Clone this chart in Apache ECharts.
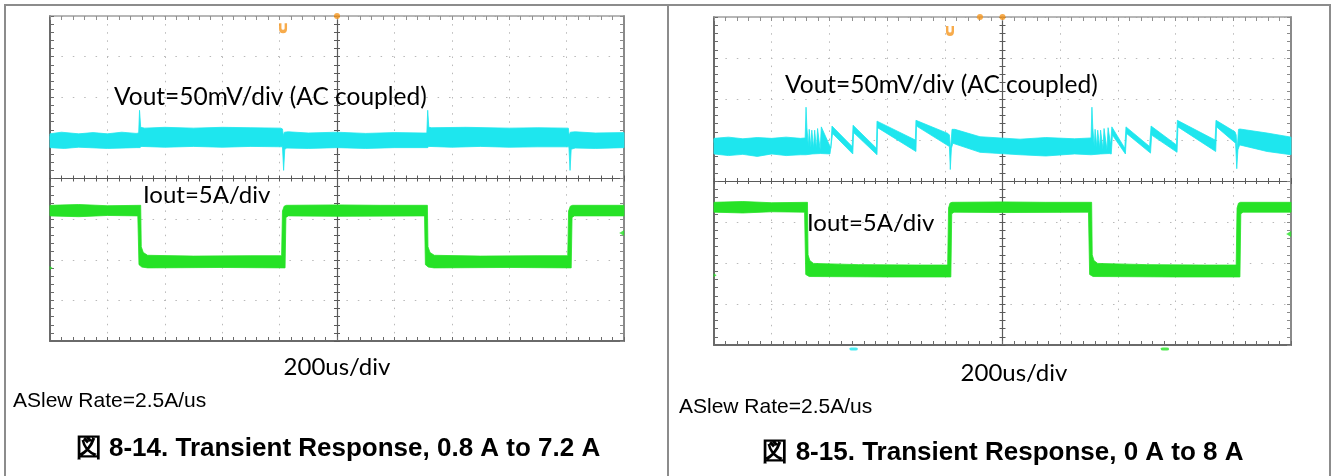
<!DOCTYPE html>
<html><head><meta charset="utf-8">
<script src="https://cdn.jsdelivr.net/npm/echarts@6/dist/echarts.min.js"></script>
<style>html,body{margin:0;padding:0;background:#fff}#c{width:1334px;height:476px}</style>
</head><body><div id="c"></div>
<script>
// Time: microseconds relative to the trigger (200 us/div, 10 divisions)
const timeRange = [-1000, 1000];
const timeStep = 200;
// Screen divisions (8 vertical divisions)
const divRange = [-4, 4];
// Channel scales: Vout 50 mV/div (AC coupled), Iout 5 A/div
const voutRange = [-250, 150];
const ioutRange = [-9, 31];

// ---------- Figure 8-14 : 0.8 A to 7.2 A ----------
const leftVoutUpper = [[-1000,5],[-960,7],[-900,5],[-850,6.5],[-800,5],[-750,7],[-700,5.5],[-691,6],[-688,34],[-684,13],[-670,12],[-600,13],[-500,12],[-400,13],[-300,12.5],[-196,12],[-190,11],[-187,3],[-183,7],[-170,7.5],[-100,6],[0,7],[100,5.5],[200,6.5],[300,6],[313,6],[316,34],[320,13],[330,12.5],[450,13],[600,12],[700,12.5],[806,12],[809,3],[813,7],[830,7.5],[900,6],[1000,6.5]];
const leftVoutLower = [[-1000,-12],[-950,-13],[-900,-11.5],[-800,-13],[-700,-12],[-686,-12],[-683,-10.5],[-600,-11.5],[-500,-10.5],[-400,-11.5],[-300,-10.5],[-190,-11],[-186,-40],[-182,-14],[-175,-12.5],[-100,-13],[0,-12],[100,-13],[200,-12],[316,-12],[320,-10.5],[400,-11.5],[500,-10.5],[600,-11.5],[700,-11],[808,-11],[812,-40],[816,-14],[830,-12.5],[900,-13],[1000,-12]];
const leftIoutUpper = [[-1000,7.7],[-900,7.8],[-800,7.65],[-684,7.7],[-682,2.6],[-675,1.9],[-660,1.55],[-500,1.45],[-300,1.5],[-193,1.5],[-190,7.0],[-184,7.6],[-176,7.7],[0,7.75],[150,7.7],[315,7.7],[317,2.6],[324,1.9],[339,1.55],[500,1.45],[700,1.5],[804,1.5],[807,7.0],[813,7.6],[821,7.7],[1000,7.7]];
const leftIoutLower = [[-1000,6.4],[-900,6.3],[-800,6.45],[-694,6.4],[-690,0.4],[-680,0.1],[-660,0.0],[-400,0.05],[-181,0.0],[-178,6.2],[-170,6.4],[0,6.35],[305,6.4],[308,0.4],[318,0.1],[338,0.0],[600,0.05],[816,0.0],[819,6.2],[827,6.4],[1000,6.4]];

// ---------- Figure 8-15 : 0 A to 8 A ----------
const rightVoutUpper = [[-1000,2],[-950,3.5],[-900,1.5],[-850,3],[-800,2],[-750,3.5],[-700,2],[-684,2.5],[-681,40],[-678,15],[-673,-8],[-670,13],[-664,-9],[-661,12],[-655,-10],[-651,12],[-645,-11],[-641,14],[-632,-12],[-628,16],[-595,-10],[-591,17],[-521,-8],[-518,18],[-437,-10],[-435,23],[-302,0],[-300,24],[-189,8],[-184,6],[-180,-12],[-175,13],[-165,13],[-78,4],[61,1],[150,3],[250,1.5],[307,2.5],[310,40],[313,15],[318,-8],[321,13],[327,-9],[330,12],[337,-10],[340,12],[348,-11],[352,14],[362,-12],[366,15],[375,-6],[379,16],[424,-10],[428,16],[510,-8],[515,17],[603,-6],[606,24],[737,0],[740,24],[806,10],[810,6],[813,-14],[818,13],[823,13.4],[917,8.5],[997,3.7],[1000,3.5]];
const rightVoutLower = [[-1000,-17],[-950,-19],[-900,-17.5],[-850,-20],[-800,-17],[-750,-19],[-700,-18],[-681,-18],[-660,-17],[-630,-16.5],[-598,-17],[-589,8],[-519,-17],[-516,9],[-435,-18],[-433,15],[-300,-14],[-298,17],[-184,-8],[-181,-36],[-177,-10],[-172,-4],[-78,-15],[61,-18],[150,-19.5],[250,-17],[307,-18],[340,-17],[370,-16.5],[377,-17],[381,6],[426,-17],[430,8],[513,-16],[517,6],[605,-15],[608,16],[739,-14],[742,16],[808,-4],[812,-35],[816,-12],[822,-6],[917,-14],[1000,-18]];
const rightIoutUpper = [[-1000,8.4],[-900,8.5],[-800,8.35],[-676,8.4],[-674,2.0],[-668,1.3],[-655,0.95],[-500,0.8],[-300,0.75],[-190,0.75],[-187,7.7],[-182,8.3],[-175,8.4],[0,8.45],[150,8.4],[309,8.4],[311,2.0],[317,1.3],[330,0.95],[500,0.8],[700,0.75],[810,0.75],[813,7.7],[818,8.3],[825,8.4],[1000,8.4]];
const rightIoutLower = [[-1000,7.2],[-900,7.1],[-800,7.25],[-686,7.2],[-682,-0.4],[-670,-0.65],[-400,-0.7],[-179,-0.7],[-176,7.0],[-168,7.2],[0,7.15],[298,7.2],[302,-0.4],[314,-0.65],[600,-0.7],[823,-0.7],[826,7.0],[834,7.2],[1000,7.2]];

// Scope UI markers [time, division]
const leftTrigger = [[0, 4]];
const rightTrigger = [[-78, 4], [0, 4]];
const leftU = [[-188, 3.7]];
const rightU = [[-182, 3.66]];
const leftIoutRef = [[992, -1.34]];
const rightIoutRef = [[992, -1.29]];
const leftGnd = [[-996, 1.0, 'c'], [-996, -2.2, 'g']];
const rightGnd = [[-996, 0.98, 'c'], [-996, -2.3, 'g']];
const rightBottom = [[-516, -4.1, 'c'], [563, -4.1, 'g']];

// Text
const texts = {
  vout: 'Vout=50mV/div (AC coupled)',
  iout: 'Iout=5A/div',
  time: '200us/div',
  slew: 'ASlew Rate=2.5A/us',
  titleL: '図 8-14. Transient Response, 0.8 A to 7.2 A',
  titleR: '図 8-15. Transient Response, 0 A to 8 A'
};

const CYAN = '#1ee6ee';
const GREEN = '#26e226';
const ORANGE = '#f5961e';

const grids = [
  {left: 50, top: 16, width: 574, height: 325},
  {left: 714, top: 17, width: 577, height: 328}
];

const xAxes = [], yAxes = [];
grids.forEach((g, gi) => {
  const W = g.width, H = g.height;
  const base = {gridIndex: gi, type: 'value', min: timeRange[0], max: timeRange[1], interval: timeStep,
    axisLabel: {show: false}, splitLine: {show: false}};
  xAxes.push(Object.assign({}, base, {position: 'bottom',
    axisLine: {show: true, onZero: false, lineStyle: {color: '#6a6a6a', width: 2}},
    axisTick: {show: true, inside: true, length: 4, lineStyle: {color: '#6a6a6a'}},
    minorTick: {show: true, splitNumber: 5, length: 4, lineStyle: {color: '#6a6a6a'}},
    splitLine: {show: true, lineStyle: {color: '#b9b9b9', width: 1, type: [1.5, 6.6]}}}));
  xAxes.push(Object.assign({}, base, {position: 'top',
    axisLine: {show: true, onZero: false, lineStyle: {color: '#a0a0a0', width: 1.5}},
    axisTick: {show: true, inside: true, length: 4, lineStyle: {color: '#909090'}},
    minorTick: {show: true, splitNumber: 5, length: 4, lineStyle: {color: '#909090'}}}));
  xAxes.push(Object.assign({}, base, {position: 'bottom', offset: -H / 2,
    axisLine: {show: true, onZero: false, lineStyle: {color: '#5a5a5a', width: 1.2}},
    axisTick: {show: true, inside: true, length: 3, lineStyle: {color: '#5a5a5a'}},
    minorTick: {show: true, splitNumber: 5, length: 3, lineStyle: {color: '#5a5a5a'}}}));
  xAxes.push(Object.assign({}, base, {position: 'top', offset: -H / 2,
    axisLine: {show: false, onZero: false},
    axisTick: {show: true, inside: true, length: 3, lineStyle: {color: '#5a5a5a'}},
    minorTick: {show: true, splitNumber: 5, length: 3, lineStyle: {color: '#5a5a5a'}}}));

  const ybase = {gridIndex: gi, type: 'value', min: divRange[0], max: divRange[1], interval: 1,
    axisLabel: {show: false}, splitLine: {show: false}};
  yAxes.push(Object.assign({}, ybase, {position: 'left',
    axisLine: {show: true, onZero: false, lineStyle: {color: '#6a6a6a', width: 2}},
    axisTick: {show: true, inside: true, length: 4, lineStyle: {color: '#6a6a6a'}},
    minorTick: {show: true, splitNumber: 5, length: 4, lineStyle: {color: '#6a6a6a'}},
    splitLine: {show: true, lineStyle: {color: '#b9b9b9', width: 1, type: [1.5, 9.9]}}}));
  yAxes.push(Object.assign({}, ybase, {position: 'right',
    axisLine: {show: true, onZero: false, lineStyle: {color: '#8a8a8a', width: 2}},
    axisTick: {show: true, inside: true, length: 4, lineStyle: {color: '#8a8a8a'}},
    minorTick: {show: true, splitNumber: 5, length: 4, lineStyle: {color: '#8a8a8a'}}}));
  yAxes.push(Object.assign({}, ybase, {position: 'left', offset: -W / 2,
    axisLine: {show: true, onZero: false, lineStyle: {color: '#5a5a5a', width: 1.2}},
    axisTick: {show: true, inside: true, length: 3, lineStyle: {color: '#5a5a5a'}},
    minorTick: {show: true, splitNumber: 5, length: 3, lineStyle: {color: '#5a5a5a'}}}));
  yAxes.push(Object.assign({}, ybase, {position: 'right', offset: -W / 2,
    axisLine: {show: false, onZero: false},
    axisTick: {show: true, inside: true, length: 3, lineStyle: {color: '#5a5a5a'}},
    minorTick: {show: true, splitNumber: 5, length: 3, lineStyle: {color: '#5a5a5a'}}}));
  yAxes.push({gridIndex: gi, type: 'value', show: false, min: voutRange[0], max: voutRange[1]});
  yAxes.push({gridIndex: gi, type: 'value', show: false, min: ioutRange[0], max: ioutRange[1]});
});

function band(upper, lower, color, xi, yi) {
  const poly = upper.concat(lower.slice().reverse());
  return {
    type: 'custom', xAxisIndex: xi, yAxisIndex: yi, data: poly, silent: true, animation: false, z: 3,
    renderItem: function (params, api) {
      if (params.dataIndex !== 0) return null;
      const pts = poly.map(p => api.coord(p));
      return {type: 'polygon', shape: {points: pts}, style: {fill: color, stroke: color, lineWidth: 0.8}};
    }
  };
}

const uPath = 'path://M0,0 L3,0 L3,6 Q3,8 5,8 Q7,8 7,6 L7,0 L10,0 L10,7 Q10,12 5,12 Q0,12 0,7 Z';
function markers(xi, yi, trig, u, ref, gnd, bottom) {
  const s = [
    {type: 'scatter', xAxisIndex: xi, yAxisIndex: yi, data: trig, symbol: 'circle', symbolSize: 6,
      itemStyle: {color: ORANGE}, clip: false, silent: true, z: 5},
    {type: 'scatter', xAxisIndex: xi, yAxisIndex: yi, data: u, symbol: uPath, symbolSize: [8, 10],
      itemStyle: {color: ORANGE}, clip: false, silent: true, z: 5},
    {type: 'scatter', xAxisIndex: xi, yAxisIndex: yi, data: ref, symbol: 'triangle', symbolRotate: 90, symbolSize: [6, 5],
      itemStyle: {color: GREEN}, clip: false, silent: true, z: 5},
    {type: 'scatter', xAxisIndex: xi, yAxisIndex: yi, data: gnd, symbol: 'triangle', symbolRotate: -90, symbolSize: [4, 3],
      itemStyle: {color: p => p.data[2] === 'c' ? CYAN : GREEN}, clip: false, silent: true, z: 5}
  ];
  if (bottom) s.push({type: 'scatter', xAxisIndex: xi, yAxisIndex: yi, data: bottom, symbol: 'roundRect', symbolSize: [8, 3],
      itemStyle: {color: p => p.data[2] === 'c' ? CYAN : GREEN}, clip: false, silent: true, z: 5});
  return s;
}

const series = [
  band(leftVoutUpper, leftVoutLower, CYAN, 0, 4),
  band(leftIoutUpper, leftIoutLower, GREEN, 0, 5),
  band(rightVoutUpper, rightVoutLower, CYAN, 4, 10),
  band(rightIoutUpper, rightIoutLower, GREEN, 4, 11)
].concat(markers(0, 0, leftTrigger, leftU, leftIoutRef, leftGnd, null))
 .concat(markers(4, 6, rightTrigger, rightU, rightIoutRef, rightGnd, rightBottom));

const lblFont = 'Lato, "Open Sans", sans-serif';
const arial = '"Liberation Sans", Arial, sans-serif';
function txt(x, y, s, font, size, weight, align) {
  return {type: 'text', x: x, y: y, z: 10, silent: true,
    style: {text: s, fill: '#000', font: (weight || 'normal') + ' ' + size + 'px ' + font,
      textAlign: align || 'left', textVerticalAlign: 'middle'}};
}
function line(x1, y1, x2, y2) {
  return {type: 'line', shape: {x1: x1, y1: y1, x2: x2, y2: y2}, silent: true,
    style: {stroke: '#8c8c8c', lineWidth: 2}};
}

const graphic = [
  line(4, 5, 1331, 5), line(5, 5, 5, 476), line(668, 5, 668, 476), line(1330, 5, 1330, 476),
  txt(114, 97, texts.vout, lblFont, 24.5),
  txt(785, 85, texts.vout, lblFont, 24.5),
  txt(143, 195, texts.iout, lblFont, 24),
  txt(807, 223, texts.iout, lblFont, 24),
  txt(337, 367, texts.time, lblFont, 24, 'normal', 'center'),
  txt(1014, 373, texts.time, lblFont, 24, 'normal', 'center'),
  txt(13, 401, texts.slew, arial, 21),
  txt(679, 407, texts.slew, arial, 21),
  txt(338, 449, texts.titleL, arial, 26, 'bold', 'center'),
  txt(1003, 453, texts.titleR, arial, 26, 'bold', 'center')
];

const chart = echarts.init(document.getElementById('c'), null, {renderer: 'canvas'});
chart.setOption({
  animation: false,
  backgroundColor: '#fff',
  grid: grids.map(g => Object.assign({containLabel: false}, g)),
  xAxis: xAxes,
  yAxis: yAxes,
  series: series,
  graphic: graphic
});
</script></body></html>
